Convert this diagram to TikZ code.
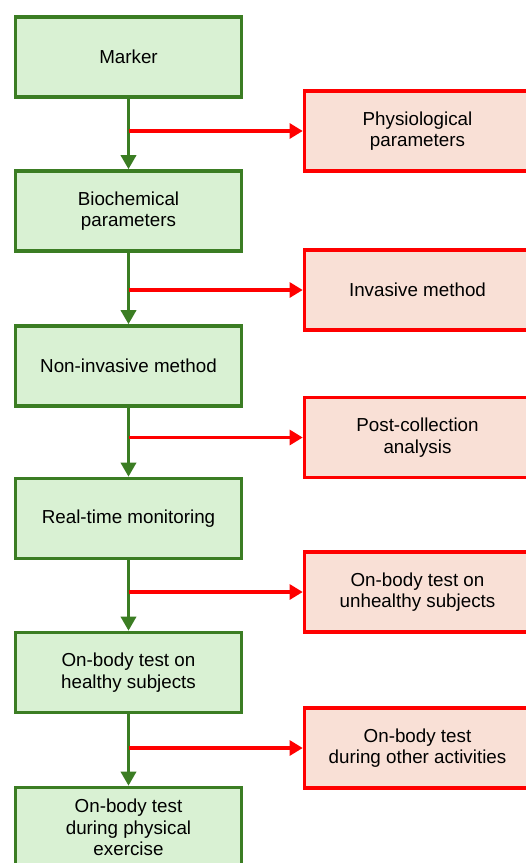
\documentclass[tikz,border=0pt]{standalone}
\usepackage{fontspec}
\setmainfont{Liberation Sans}
\usepackage{tikz}
\usetikzlibrary{arrows.meta}

\definecolor{boxgreen}{HTML}{3B7D23}
\definecolor{fillgreen}{HTML}{D9F1D3}
\definecolor{boxred}{HTML}{FF0000}
\definecolor{fillred}{HTML}{F9E0D6}

\begin{document}
\begin{tikzpicture}[x=0.02cm,y=-0.02cm,
  greenbox/.style={rectangle,draw=boxgreen,fill=fillgreen,line width=2pt,
    minimum width=4.52cm,minimum height=1.6cm,align=center,inner sep=2pt,
    font=\fontsize{10.7}{12.3}\selectfont},
  redbox/.style={rectangle,draw=boxred,fill=fillred,line width=2pt,
    minimum width=4.52cm,minimum height=1.6cm,align=center,inner sep=2pt,
    font=\fontsize{10.7}{12.3}\selectfont},
  greenarrow/.style={draw=boxgreen,line width=2pt,-{Triangle[length=8pt,width=8.5pt]}},
  redarrow/.style={draw=boxred,line width=2pt,-{Triangle[length=7.5pt,width=8.5pt]}}]
\useasboundingbox (0,0) rectangle (526,863);
\begin{scope}
\clip (0,0) rectangle (526,863);
% main line
\node[greenbox] (g1) at (128.5,57) {Marker};
\node[greenbox] (g2) at (128.5,211) {Biochemical\\parameters};
\node[greenbox] (g3) at (128.5,366) {Non-invasive method};
\node[greenbox] (g4) at (128.5,518.5) {Real-time monitoring};
\node[greenbox] (g5) at (128.5,672.5) {On-body test on\\healthy subjects};
\node[greenbox] (g6) at (128.5,827.5) {On-body test\\during physical\\exercise};
% side branches
\node[redbox] (r1) at (417.5,131) {Physiological\\parameters};
\node[redbox] (r2) at (417.5,290) {Invasive method};
\node[redbox] (r3) at (417.5,437.5) {Post-collection\\analysis};
\node[redbox] (r4) at (417.5,592) {On-body test on\\unhealthy subjects};
\node[redbox] (r5) at (417.5,748) {On-body test\\during other activities};

\foreach \i/\j in {1/2,2/3,3/4,4/5,5/6}{
  \draw[greenarrow] (g\i) -- (g\j);
  \draw[redarrow] (g\i.south |- r\i.west) -- (r\i.west);
}
\end{scope}
\end{tikzpicture}
\end{document}
